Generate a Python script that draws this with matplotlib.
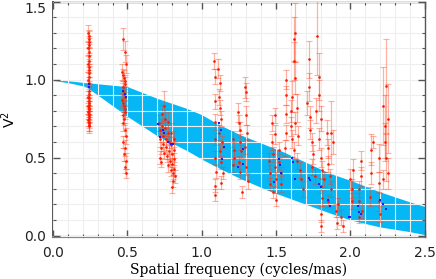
import numpy as np
import matplotlib.pyplot as plt
from matplotlib.ticker import MultipleLocator

# model band edges
band_x = [0.0, 0.13, 0.22, 0.25, 0.5, 0.7, 0.9, 1.0, 1.1, 1.25, 1.46, 1.53, 1.86, 2.0, 2.2, 2.4, 2.5]
band_hi = [1.0, 0.99, 0.98, 0.978, 0.955, 0.88, 0.815, 0.775, 0.72, 0.65, 0.57, 0.545, 0.40, 0.354, 0.28, 0.216, 0.187]
band_lo = [0.996, 0.975, 0.955, 0.935, 0.764, 0.64, 0.545, 0.49, 0.44, 0.37, 0.284, 0.26, 0.145, 0.10, 0.055, 0.025, 0.006]

# measured V2 : cluster near 0.24
a_x = [0.236, 0.240, 0.243, 0.238, 0.241, 0.237, 0.244, 0.239, 0.242, 0.236, 0.240, 0.243, 0.238,
       0.241, 0.237, 0.244, 0.239, 0.242, 0.236, 0.240, 0.243, 0.238, 0.241, 0.237, 0.244, 0.239,
       0.242, 0.236, 0.240, 0.243, 0.238, 0.241, 0.237, 0.244, 0.239, 0.242, 0.240]
a_y = [1.30, 1.28, 1.26, 1.24, 1.22, 1.20, 1.18, 1.15, 1.12, 1.10, 1.08, 1.06, 1.04, 1.02, 1.00,
       0.98, 0.93, 0.91, 0.89, 0.88, 0.86, 0.85, 0.84, 0.83, 0.82, 0.81, 0.80, 0.79, 0.78, 0.77,
       0.76, 0.75, 0.74, 0.73, 0.72, 0.71, 0.70]
a_e = [0.05, 0.04, 0.05, 0.04, 0.05, 0.04, 0.05, 0.05, 0.04, 0.05, 0.04, 0.04, 0.05, 0.04, 0.05,
       0.04, 0.04, 0.05, 0.04, 0.05, 0.04, 0.05, 0.04, 0.05, 0.04, 0.05, 0.04, 0.04, 0.05, 0.04,
       0.04, 0.05, 0.04, 0.04, 0.05, 0.04, 0.04]

# cluster near 0.48
b_x = [0.467, 0.485, 0.490, 0.465, 0.470, 0.475, 0.480, 0.485, 0.468, 0.472, 0.478, 0.483, 0.466,
       0.471, 0.476, 0.481, 0.486, 0.469, 0.474, 0.470, 0.480, 0.490, 0.470, 0.485, 0.475, 0.490,
       0.480, 0.490]
b_y = [1.26, 1.18, 1.10, 1.05, 1.03, 1.01, 0.99, 0.97, 0.95, 0.93, 0.91, 0.89, 0.87, 0.85, 0.83,
       0.81, 0.79, 0.77, 0.75, 0.72, 0.68, 0.64, 0.60, 0.56, 0.52, 0.48, 0.44, 0.40]
b_e = [0.07, 0.07, 0.06, 0.05, 0.04, 0.05, 0.04, 0.05, 0.04, 0.05, 0.04, 0.05, 0.04, 0.05, 0.04,
       0.05, 0.04, 0.05, 0.04, 0.05, 0.04, 0.05, 0.04, 0.05, 0.04, 0.05, 0.04, 0.03]

# cluster near 0.77
c_x = [0.715, 0.720, 0.720, 0.725, 0.720, 0.725, 0.730, 0.735, 0.740, 0.740, 0.745, 0.745, 0.750,
       0.755, 0.760, 0.760, 0.765, 0.770, 0.770, 0.775, 0.780, 0.780, 0.785, 0.790, 0.790, 0.795,
       0.800, 0.800, 0.805, 0.805, 0.810, 0.810, 0.815, 0.815, 0.820, 0.800]
c_y = [0.72, 0.68, 0.62, 0.56, 0.50, 0.47, 0.78, 0.70, 0.64, 0.59, 0.53, 0.83, 0.75, 0.69, 0.62,
       0.57, 0.51, 0.45, 0.73, 0.66, 0.60, 0.54, 0.48, 0.42, 0.66, 0.58, 0.52, 0.46, 0.40, 0.35,
       0.62, 0.55, 0.49, 0.43, 0.38, 0.31]
c_e = [0.05, 0.04, 0.05, 0.04, 0.04, 0.03, 0.06, 0.05, 0.04, 0.05, 0.04, 0.10, 0.06, 0.05, 0.04,
       0.05, 0.04, 0.04, 0.06, 0.05, 0.04, 0.05, 0.04, 0.04, 0.06, 0.05, 0.04, 0.04, 0.04, 0.04,
       0.05, 0.05, 0.04, 0.04, 0.04, 0.04]

# cluster 1.08 - 1.31
d_x = [1.085, 1.090, 1.088, 1.092, 1.086, 1.090, 1.094, 1.088, 1.092, 1.110, 1.120, 1.115, 1.125,
       1.130, 1.118, 1.135, 1.122, 1.128, 1.140, 1.132, 1.210, 1.215, 1.220, 1.212, 1.245, 1.250,
       1.255, 1.260, 1.265, 1.250, 1.258, 1.270, 1.290, 1.295, 1.300, 1.305, 1.292, 1.298, 1.310]
d_y = [1.12, 1.02, 0.86, 0.73, 0.62, 0.50, 0.41, 0.32, 0.26, 1.07, 0.98, 0.89, 0.82, 0.75, 0.66,
       0.60, 0.54, 0.47, 0.40, 0.34, 0.62, 0.55, 0.50, 0.45, 0.79, 0.72, 0.68, 0.60, 0.54, 0.47,
       0.41, 0.28, 0.95, 0.92, 0.77, 0.66, 0.57, 0.44, 0.35]
d_e = [0.05, 0.05, 0.05, 0.05, 0.04, 0.04, 0.04, 0.04, 0.04, 0.06, 0.05, 0.05, 0.05, 0.05, 0.05,
       0.04, 0.05, 0.04, 0.04, 0.04, 0.05, 0.05, 0.04, 0.04, 0.06, 0.05, 0.05, 0.05, 0.04, 0.04,
       0.05, 0.04, 0.07, 0.06, 0.06, 0.05, 0.05, 0.05, 0.05]

# cluster 1.45 - 1.57
e_x = [1.45, 1.46, 1.46, 1.47, 1.47, 1.48, 1.48, 1.49, 1.49, 1.49, 1.50, 1.50, 1.52, 1.52, 1.53,
       1.53, 1.57, 1.57, 1.57, 1.57, 1.56]
e_y = [0.48, 0.40, 0.33, 0.72, 0.60, 0.52, 0.28, 0.77, 0.65, 0.44, 0.36, 0.23, 0.55, 0.47, 0.40,
       0.33, 1.00, 0.90, 0.78, 0.66, 0.56]
e_e = [0.05, 0.05, 0.04, 0.05, 0.05, 0.05, 0.04, 0.05, 0.06, 0.05, 0.05, 0.04, 0.05, 0.05, 0.04,
       0.05, 0.06, 0.06, 0.06, 0.05, 0.05]

# cluster 1.60 - 1.92
f_x = [1.625, 1.620, 1.620, 1.630, 1.610, 1.600, 1.600, 1.610, 1.620, 1.630, 1.640, 1.650, 1.640,
       1.660, 1.670, 1.680, 1.710, 1.720, 1.720, 1.730, 1.730, 1.740, 1.750, 1.740, 1.760, 1.770,
       1.778, 1.790, 1.790, 1.800, 1.790, 1.800, 1.810, 1.800, 1.810, 1.800, 1.800, 1.820, 1.840,
       1.850, 1.850, 1.860, 1.868, 1.870, 1.850, 1.880, 1.900, 1.910, 1.920]
f_y = [1.30, 1.26, 1.12, 1.01, 0.89, 0.80, 0.70, 0.62, 0.55, 0.72, 0.82, 0.64, 0.48, 0.42, 0.36,
       0.30, 0.85, 1.13, 0.95, 0.76, 0.68, 0.60, 0.52, 0.44, 0.38, 0.80, 1.28, 1.02, 0.90, 0.75,
       0.62, 0.50, 0.42, 0.32, 0.24, 0.14, 0.06, 0.36, 0.66, 0.56, 0.46, 0.38, 0.66, 0.30, 0.22,
       0.60, 0.16, 0.08, 0.20]
f_e = [0.19, 0.14, 0.12, 0.10, 0.10, 0.07, 0.06, 0.06, 0.05, 0.07, 0.09, 0.06, 0.05, 0.05, 0.05,
       0.05, 0.08, 0.12, 0.09, 0.07, 0.06, 0.06, 0.06, 0.05, 0.05, 0.08, 0.25, 0.15, 0.10, 0.08,
       0.07, 0.06, 0.06, 0.05, 0.05, 0.05, 0.04, 0.05, 0.08, 0.06, 0.05, 0.05, 0.20, 0.05, 0.04,
       0.08, 0.04, 0.04, 0.04]

# cluster 1.94 - 2.26
g_x = [1.94, 1.95, 2.00, 2.01, 2.01, 2.02, 2.06, 2.06, 2.07, 2.07, 2.08, 2.06, 2.14, 2.14, 2.13,
       2.153, 2.19, 2.19, 2.19, 2.20, 2.22, 2.23, 2.23, 2.24, 2.24, 2.25, 2.22, 2.255]
g_y = [0.12, 0.06, 0.36, 0.30, 0.22, 0.42, 0.30, 0.22, 0.38, 0.48, 0.16, 0.12, 0.55, 0.40, 0.25,
       0.60, 0.50, 0.34, 0.22, 0.14, 0.83, 0.70, 0.60, 0.96, 0.50, 0.40, 0.36, 0.75]
g_e = [0.05, 0.04, 0.07, 0.06, 0.05, 0.07, 0.05, 0.05, 0.06, 0.06, 0.05, 0.04, 0.10, 0.07, 0.06,
       0.04, 0.09, 0.07, 0.06, 0.05, 0.25, 0.20, 0.12, 0.30, 0.15, 0.10, 0.06, 0.22]

# model values at the measured frequencies
mod_x = [0.240, 0.243, 0.470, 0.480, 0.490, 0.707, 0.720, 0.737, 0.745, 0.775, 0.790, 0.805,
         1.116, 1.130, 1.150, 1.134, 1.280, 1.280, 1.246, 1.486, 1.520, 1.525, 1.530, 1.610, 1.615,
         1.630, 1.720, 1.730, 1.790, 1.800, 1.850, 1.860, 1.990, 2.000, 2.050, 2.060, 2.070, 2.200,
         2.220, 2.240]
mod_y = [0.97, 0.95, 0.93, 0.91, 0.89, 0.715, 0.634, 0.677, 0.66, 0.60, 0.59, 0.585, 0.72, 0.68,
         0.567, 0.49, 0.556, 0.46, 0.44, 0.344, 0.49, 0.45, 0.40, 0.50, 0.47, 0.365, 0.37, 0.355,
         0.33, 0.31, 0.23, 0.19, 0.12, 0.117, 0.19, 0.15, 0.14, 0.23, 0.20, 0.17]

obs_x = np.array(a_x + b_x + c_x + d_x + e_x + f_x + g_x)
obs_y = np.array(a_y + b_y + c_y + d_y + e_y + f_y + g_y)
obs_e = np.array(a_e + b_e + c_e + d_e + e_e + f_e + g_e)

fig = plt.figure(figsize=(4.36, 2.79), dpi=100)
ax = fig.add_axes([0.122, 0.149, 0.852, 0.845])

ax.fill_between(band_x, band_lo, band_hi, color='#05b8f5', lw=0, zorder=1)

ax.xaxis.set_major_locator(MultipleLocator(0.5))
ax.xaxis.set_minor_locator(MultipleLocator(0.1))
ax.yaxis.set_major_locator(MultipleLocator(0.5))
ax.yaxis.set_minor_locator(MultipleLocator(0.1))
ax.grid(True, which='both', color='#eeeeee', lw=0.8, zorder=2)
ax.set_axisbelow(False)

ax.errorbar(obs_x, obs_y, yerr=obs_e, fmt='none', ecolor=(1.0, 0.25, 0.1, 0.4),
            elinewidth=0.9, capsize=2.5, capthick=0.8, zorder=3)
ax.plot(obs_x, obs_y, '.', color='#ff1a00', ms=1.8, zorder=4)
ax.plot(mod_x, mod_y, 's', color='#1a1aff', ms=2, mew=0, zorder=5)

ax.set_xlim(0, 2.5)
ax.set_ylim(-0.012, 1.5)
ax.yaxis.set_major_formatter(plt.FuncFormatter(lambda v, p: f'{v:.1f}'))
ax.xaxis.set_major_formatter(plt.FuncFormatter(lambda v, p: f'{v:.1f}'))

ax.tick_params(which='both', direction='in', top=True, right=True, colors='#555555',
               labelcolor='#222222', labelsize=10)
ax.tick_params(which='major', length=5, width=1)
ax.tick_params(which='minor', length=2.5, width=0.8)
ax.tick_params(axis='x', pad=6)
ax.tick_params(axis='y', pad=5)
for s in ax.spines.values():
    s.set_color('#555555')
    s.set_linewidth(1.0)
ax.spines['left'].set_linewidth(1.4)
ax.spines['bottom'].set_linewidth(1.6)
ax.spines['bottom'].set_color('#888888')

ax.set_xlabel('Spatial frequency (cycles/mas)', family='DejaVu Serif', fontsize=10, labelpad=2)
ax.set_ylabel('V$^2$', fontsize=10)
ax.yaxis.set_label_coords(-0.095, 0.5)

fig.canvas.draw()
for t in ax.get_yticklabels():
    if t.get_text() == '1.5':
        t.set_va('top')
        t.set_y(1.5)

fig.savefig('out.png', dpi=100)
